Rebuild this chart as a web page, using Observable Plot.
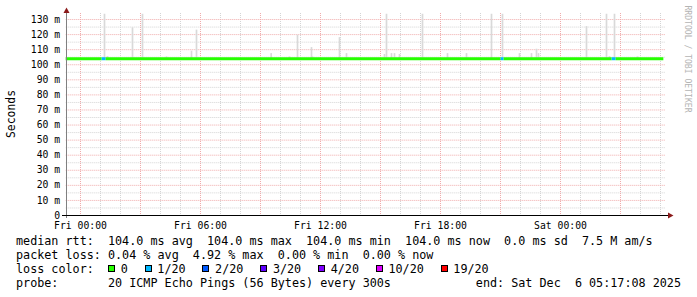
<!DOCTYPE html>
<html><head><meta charset="utf-8">
<script src="https://cdn.jsdelivr.net/npm/d3@7"></script>
<script src="https://cdn.jsdelivr.net/npm/@observablehq/plot@0.6"></script>
<style>
html,body{margin:0;padding:0;background:#fff;}
#wrap{position:relative;width:697px;height:297px;overflow:hidden;font-family:"DejaVu Sans Mono",monospace;color:#000;}
#chart{position:absolute;left:0;top:0;}
.leg{position:absolute;left:16px;font-size:11.75px;line-height:14px;white-space:pre;}
.box{display:inline-block;width:5px;height:5px;border:1px solid #000;position:relative;top:-1px;margin-right:5.8px;}
.item{margin-right:16.7px;}
#ylab{position:absolute;left:11px;top:114px;transform:translate(-50%,-50%) rotate(-90deg);font-size:11.4px;white-space:nowrap;}
#wm{position:absolute;left:688px;top:59px;transform:translate(-50%,-50%) rotate(90deg);font-size:8.1px;white-space:nowrap;color:#b4b4b4;}
</style></head>
<body><div id="wrap"><div id="chart"></div></div>
<script>
// ---- data ----
const timeStart = "2025-12-04T23:17:08Z";
const timeEnd = "2025-12-06T05:17:08Z";

const yTicks = [0,10,20,30,40,50,60,70,80,90,100,110,120,130];
const yTickLabels = ["0","10 m","20 m","30 m","40 m","50 m","60 m","70 m","80 m","90 m","100 m","110 m","120 m","130 m"];
const yMinor = [5,15,25,35,45,55,65,75,85,95,105,115,125];

const xTicks = ["2025-12-05T00:00Z","2025-12-05T06:00Z","2025-12-05T12:00Z","2025-12-05T18:00Z","2025-12-06T00:00Z"];
const xTickLabels = ["Fri 00:00","Fri 06:00","Fri 12:00","Fri 18:00","Sat 00:00"];

// median rtt segments with loss (n of 20)
const segStart = ["2025-12-04T23:17Z","2025-12-05T01:05Z","2025-12-05T01:17Z","2025-12-05T21:02Z","2025-12-05T21:11Z","2025-12-06T02:35Z","2025-12-06T02:47Z"];
const segEnd   = ["2025-12-05T01:05Z","2025-12-05T01:17Z","2025-12-05T21:02Z","2025-12-05T21:11Z","2025-12-06T02:35Z","2025-12-06T02:47Z","2025-12-06T05:10Z"];
const segMedian = [104,104,104,104,104,104,104];
const segLoss = [0,1,0,1,0,1,0];

// smoke spikes (max ping in ms)
const spikeTimes = ["2025-12-05T01:11Z","2025-12-05T01:20Z","2025-12-05T02:35Z","2025-12-05T03:05Z","2025-12-05T04:17Z","2025-12-05T05:32Z","2025-12-05T05:47Z","2025-12-05T09:31Z","2025-12-05T10:26Z","2025-12-05T10:50Z","2025-12-05T11:32Z","2025-12-05T11:35Z","2025-12-05T12:56Z","2025-12-05T13:17Z","2025-12-05T15:11Z","2025-12-05T15:17Z","2025-12-05T15:32Z","2025-12-05T15:41Z","2025-12-05T15:56Z","2025-12-05T17:05Z","2025-12-05T18:20Z","2025-12-05T19:17Z","2025-12-05T20:32Z","2025-12-05T21:05Z","2025-12-05T21:56Z","2025-12-05T22:32Z","2025-12-05T22:47Z","2025-12-05T22:53Z","2025-12-06T01:17Z","2025-12-06T02:17Z","2025-12-06T02:26Z","2025-12-06T02:41Z","2025-12-06T03:50Z"];
const spikeTops = [133.5,105.4,124.5,133.5,105.2,109,123,107.4,105.2,119.6,111.4,105.2,118,107.4,106.8,133.5,107.4,107.4,106.8,133.5,107.4,107.4,133.5,133.5,107.4,107.4,110.3,107.4,125.3,133.5,105.4,133.5,105.2];

const lossLabels = ["0","1/20","2/20","3/20","4/20","10/20","19/20"];
const lossCounts = [0,1,2,3,4,10,19];
const lossColors = ["#26ff00","#00b8ff","#0059ff","#5e00ff","#7e00ff","#dd00ff","#ff0000"];

const rttStats = ["104.0 ms avg","104.0 ms max","104.0 ms min","104.0 ms now","0.0 ms sd","7.5 M am/s"];
const lossStats = ["0.04 % avg","4.92 % max","0.00 % min","0.00 % now"];
const probeText = "20 ICMP Echo Pings (56 Bytes) every 300s";
const endText = "end: Sat Dec  6 05:17:08 2025";

// ---- build ----
const t0 = new Date(timeStart), t1 = new Date(timeEnd);
const segments = segStart.map((s,i)=>({x1:new Date(s), x2:new Date(segEnd[i]), y:segMedian[i], c:lossColors[lossCounts.indexOf(segLoss[i])]}));
const spikes = spikeTimes.map((s,i)=>({x1:new Date(s), x2:d3.utcMinute.offset(new Date(s),5), top:spikeTops[i]}));
const hourGrid = d3.utcHour.range(t0, t1).filter(d=>d.getUTCHours()%3!==0);
const hour3Grid = d3.utcHour.range(t0, t1).filter(d=>d.getUTCHours()%3===0);
const xTickDates = xTicks.map(d=>new Date(d));
const dash = "1,1";

const plot = Plot.plot({
  width: 697, height: 232,
  marginLeft: 65.71, marginRight: 31.29, marginTop: 13, marginBottom: 17,
  style: {fontFamily: "DejaVu Sans Mono", fontSize: "9.75px", background: "transparent", color: "#000"},
  x: {type: "utc", domain: [t0, t1], ticks: xTickDates, tickFormat: d => xTickLabels[xTickDates.findIndex(v=>+v===+d)], tickSize: 0, tickPadding: 6.5, label: null},
  y: {domain: [0, 134], ticks: yTicks, tickFormat: d => yTickLabels[yTicks.indexOf(d)], tickSize: 0, tickPadding: 6, label: null},
  marks: [
    Plot.ruleY(yMinor, {stroke: "#d4d4d4", strokeDasharray: dash}),
    Plot.ruleX(hourGrid, {stroke: "#d4d4d4", strokeDasharray: dash}),
    Plot.ruleY(yTicks.filter(v=>v>0), {stroke: "#f0aaaa", strokeDasharray: dash}),
    Plot.ruleX(hour3Grid, {stroke: "#f0aaaa", strokeDasharray: dash}),
    Plot.rect(spikes, {x1: "x1", x2: "x2", y1: 104, y2: "top", fill: "#d9d9d9"}),
    Plot.ruleY(segments, {x1: "x1", x2: "x2", y: "y", stroke: "c", strokeWidth: 3})
  ]
});
document.getElementById("chart").appendChild(plot);

// axes & arrows (decoration)
const svg = d3.select(plot);
const g = svg.append("g");
g.append("line").attr("x1",66.5).attr("x2",66.5).attr("y1",11).attr("y2",218).attr("stroke","#808080");
g.append("line").attr("x1",62).attr("x2",669).attr("y1",215.5).attr("y2",215.5).attr("stroke","#000");
g.append("path").attr("d","M66.5,7.5 L63.5,13 L69.5,13 Z").attr("fill","#8b1a1a");
g.append("path").attr("d","M673.5,215.5 L668,212.5 L668,218.5 Z").attr("fill","#8b1a1a");

// html texts
const wrap = document.getElementById("wrap");
function add(cls, top, html, id){const d=document.createElement("div"); if(cls) d.className=cls; if(id) d.id=id; if(top!=null) d.style.top=top+"px"; d.innerHTML=html; wrap.appendChild(d); return d;}
add(null, null, "Seconds", "ylab");
add(null, null, "RRDTOOL / TOBI OETIKER", "wm");
add("leg", 234, "median rtt:  " + rttStats.join("  "));
add("leg", 248, "packet loss: " + lossStats.join("  "));
add("leg", 262, "loss color:  " + lossLabels.map((l,i)=>`<span class="item"><span class="box" style="background:${lossColors[i]}"></span>${l}</span>`).join(""));
add("leg", 276, "probe:       " + probeText);
const e = add("leg", 276, endText); e.style.left="auto"; e.style.right="16px";
</script>
</body></html>
